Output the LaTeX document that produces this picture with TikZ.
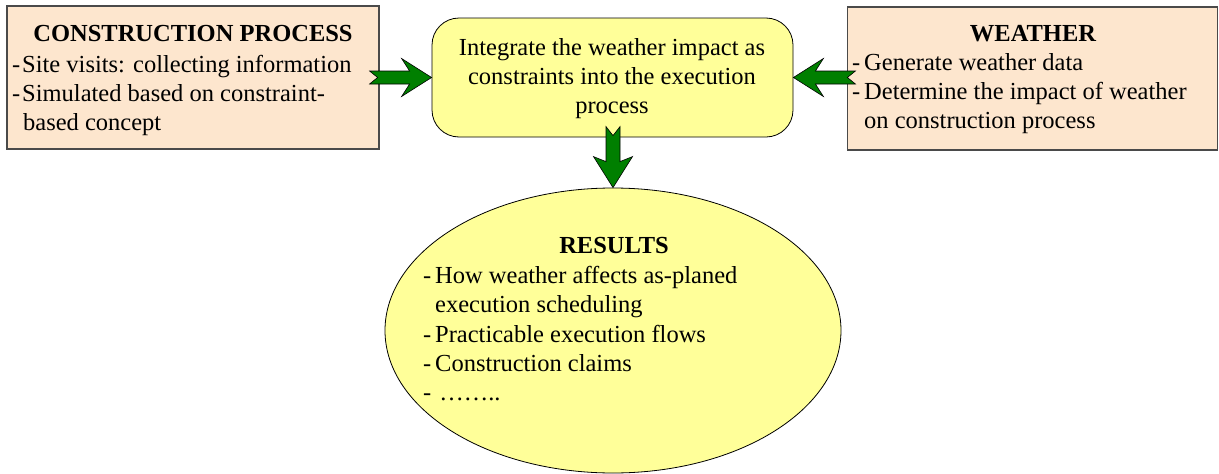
\documentclass[tikz,border=0pt]{standalone}
\usepackage{fontspec}
\setmainfont{Liberation Serif}
\usetikzlibrary{shapes.geometric}
\definecolor{peach}{HTML}{FDE6CE}
\definecolor{lyellow}{HTML}{FFFF99}
\definecolor{agreen}{HTML}{007F00}
\definecolor{bordergray}{HTML}{4A4A4A}
\tikzset{
  infobox/.style={draw=bordergray, line width=1.3pt, fill=peach, inner sep=0pt},
  midbox/.style={draw=black, line width=0.8pt, fill=lyellow, rounded corners=27pt, inner sep=0pt},
  resell/.style={ellipse, draw=black, line width=0.8pt, fill=lyellow, inner sep=0pt},
  txt/.style={inner sep=0pt, anchor=base west, font=\fontsize{24.5}{29.5}\selectfont},
  ttl/.style={inner sep=0pt, anchor=base, font=\fontsize{24.5}{29.5}\selectfont\bfseries},
  ctr/.style={inner sep=0pt, anchor=base, font=\fontsize{24.5}{29.5}\selectfont},
  garrow/.style={draw=black, line width=0.6pt, fill=agreen, line join=miter}
}
\begin{document}
\begin{tikzpicture}[x=1pt, y=-1pt]
\useasboundingbox (0,0) rectangle (1219,474);
% boxes
\node[infobox, minimum width=372pt, minimum height=143pt] (cp) at (193,77.5) {};
\node[infobox, minimum width=370pt, minimum height=143pt] (we) at (1032.5,78.5) {};
\node[midbox, minimum width=361pt, minimum height=119pt] (mid) at (612.5,77.5) {};
\node[resell, minimum width=456pt, minimum height=285pt] (res) at (613,330.5) {};
% left box text
\node[ttl] (cpt) at (193,41) {CONSTRUCTION PROCESS};
\node[txt] (cpd1) at (12,72) {-};
\node[txt] (cpl1) at (22,72) {Site visits: collecting information};
\node[txt] (cpd2) at (12,101) {-};
\node[txt] (cpl2) at (22,101) {Simulated based on constraint-};
\node[txt] (cpl3) at (23,130) {based concept};
% middle text
\node[ctr] (m1) at (612,55) {Integrate the weather impact as};
\node[ctr] (m2) at (612,84) {constraints into the execution};
\node[ctr] (m3) at (612,113) {process};
% right box text
\node[ttl] (wet) at (1033,41) {WEATHER};
\node[txt] (wed1) at (852,70) {-};
\node[txt] (wel1) at (864,70) {Generate weather data};
\node[txt] (wed2) at (852,99.5) {-};
\node[txt] (wel2) at (864,99.5) {Determine the impact of weather};
\node[txt] (wel3) at (864,128.5) {on construction process};
% results text
\node[ttl] (rt) at (614,253) {RESULTS};
\node[txt] (rd1) at (423,283) {-};
\node[txt] (rl1) at (435,283) {How weather affects as-planed};
\node[txt] (rl2) at (435,312) {execution scheduling};
\node[txt] (rd3) at (423,342) {-};
\node[txt] (rl3) at (435,342) {Practicable execution flows};
\node[txt] (rd4) at (423,371) {-};
\node[txt] (rl4) at (435,371) {Construction claims};
\node[txt] (rd5) at (423,400) {-};
\node[txt] (rl5) at (435,400) {\,\dots\dots..};
% block arrows
\draw[garrow] (mid.west) -- ++(-30,-19) -- ++(8,12.5) -- ++(-40,0) -- ++(8,6.5) -- ++(-8,6.5) -- ++(40,0) -- ++(-8,12.5) -- cycle;
\draw[garrow] (mid.east) -- ++(30,-19) -- ++(-8,12.5) -- ++(40,0) -- ++(-8,6.5) -- ++(8,6.5) -- ++(-40,0) -- ++(8,12.5) -- cycle;
\draw[garrow] (res.north) -- ++(-19.5,-31) -- ++(12.5,5) -- ++(0,-35) -- ++(7,9) -- ++(7,-9) -- ++(0,35) -- ++(12.5,-5) -- cycle;
\end{tikzpicture}
\end{document}
